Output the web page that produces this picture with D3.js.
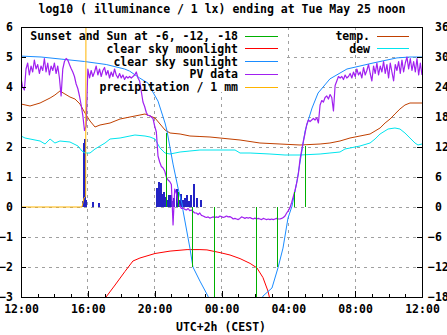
<!DOCTYPE html>
<html><head><meta charset="utf-8">
<script src="https://cdn.jsdelivr.net/npm/d3@7"></script>
<style>
html,body{margin:0;padding:0;background:#fff;}
svg text{font-family:"DejaVu Sans Mono",monospace;font-weight:bold;font-size:11.5px;fill:#000;}
</style></head><body>
<svg id="chart" width="447" height="335"></svg>
<script>
// ---- data (time = hours after Mon 12:00 local, CEST) ----
const xTickHours = [0, 4, 8, 12, 16, 20, 24];
const xTickLabels = ["12:00", "16:00", "20:00", "00:00", "04:00", "08:00", "12:00"];
const yTicks = [-3, -2, -1, 0, 1, 2, 3, 4, 5, 6];
const y2Ticks = [-18, -12, -6, 0, 6, 12, 18, 24, 30, 36];

// Sunset and Sun at -6, -12, -18 (impulses)
const sunT = [8.72, 9.40, 10.29, 11.61, 14.07, 15.38, 16.34, 17.04];
const sunV = [2.47, 0.5, -2.0, -3.5, -3.5, -2.0, 0.5, 2.03];

// clear sky moonlight
const moonT = [4.95, 5.09, 5.63, 6.22, 6.70, 7.12, 7.42, 8.02, 8.92, 9.94, 10.71, 11.13, 11.91, 12.51, 13.11, 13.71, 14.12, 14.48, 14.78, 14.95];
const moonV = [-3.2, -3.0, -2.6, -2.15, -1.8, -1.7, -1.65, -1.55, -1.47, -1.42, -1.42, -1.43, -1.52, -1.6, -1.72, -1.88, -2.03, -2.35, -2.8, -3.2];

// clear sky sunlight
const sunlightT = [0, 1.2, 2.4, 3.8, 5.1, 6.2, 6.5, 7.1, 7.6, 7.72, 8.2, 8.62, 8.74, 9.10, 9.40, 9.64, 9.70, 10.11, 10.29, 10.71, 11.19, 11.4, 14.3, 14.48, 15.02, 15.38, 15.68, 15.98, 16.22, 16.52, 16.88, 17.0, 17.18, 17.42, 17.78, 18.49, 19.51, 21.07, 22.5, 23.28, 24];
const sunlightV = [5.03, 5.0, 4.93, 4.85, 4.75, 4.6, 4.53, 4.3, 4.13, 4.0, 3.53, 2.8, 2.53, 1.43, 0.63, 0.1, -0.13, -1.37, -2.0, -2.47, -2.97, -3.3, -3.3, -2.97, -2.7, -2.03, -1.37, -0.37, 0.03, 0.87, 2.1, 2.53, 2.87, 3.3, 3.8, 4.27, 4.6, 4.8, 4.97, 5.0, 5.0];

// PV data, one reading every 6 minutes from 12:00
const pvStartHour = 0, pvStepHours = 0.1;
const pvV = [
 4.3, 4.0, 3.9, 4.6, 4.8, 4.4, 4.7, 4.5, 4.9, 4.6,
 4.75, 4.45, 4.7, 4.55, 4.95, 4.5, 4.8, 4.4, 4.7, 4.55,
 4.8, 4.45, 4.7, 4.3, 3.7, 4.6, 4.85, 4.95, 4.9, 4.75,
 4.62, 4.5, 4.35, 4.1, 3.95, 3.7, 3.4, 3.05, 2.55, 2.7,
 4.6, 4.3, 4.55, 4.35, 4.5, 4.7, 4.4, 4.6, 4.35, 4.55,
 4.65, 4.4, 4.55, 4.3, 4.5, 4.35, 4.6, 4.4, 4.3, 4.45,
 4.3, 4.4, 4.25, 4.35, 4.3, 4.35, 4.3, 4.35, 4.4, 4.5,
 4.3, 4.2, 3.85, 3.5, 3.35, 3.15, 3.05, 3.05, 3.0, 2.95,
 2.7, 2.5, 1.7, 1.5, 1.35, 1.3, 1.2, 1.0, 0.9, 0.85,
 0.75, -0.6, 0.6, 0.45, 0.15, 0.05, -0.05, -0.03, -0.08, -0.1,
 -0.05, -0.12, -0.1, -0.15, -0.2, -0.2, -0.25, -0.2, -0.28, -0.3,
 -0.33, -0.35, -0.33, -0.37, -0.35, -0.33, -0.35, -0.33, -0.35, -0.3,
 -0.32, -0.35, -0.33, -0.3, -0.33, -0.32, -0.35, -0.4, -0.38, -0.4,
 -0.42, -0.38, -0.33, -0.35, -0.38, -0.35, -0.37, -0.35, -0.38, -0.4,
 -0.37, -0.4, -0.38, -0.4, -0.42, -0.38, -0.4, -0.42, -0.4, -0.42,
 -0.4, -0.42, -0.4, -0.38, -0.4, -0.4, -0.38, -0.35, -0.3, -0.2,
 -0.12, -0.02, 0.15, 0.35, 0.55, 0.8, 1.1, 1.6, 1.9, 2.2,
 2.45, 2.75, 2.9, 2.85, 2.9, 2.95, 2.9, 2.98, 2.8, 3.4,
 3.55, 3.5, 3.65, 3.7, 3.6, 3.75, 3.65, 3.2, 4.05, 4.2,
 4.35, 4.3, 4.35, 4.25, 4.4, 4.3, 4.35, 4.45, 4.3, 4.5,
 4.35, 4.6, 4.4, 4.5, 4.3, 4.65, 4.4, 4.55, 4.75, 4.45,
 4.2, 4.7, 4.45, 4.8, 4.4, 4.7, 4.5, 4.85, 4.45, 4.75,
 4.3, 4.8, 4.5, 4.2, 4.75, 4.55, 4.85, 4.45, 4.9, 4.5,
 4.8, 5.0, 4.6, 4.95, 4.55, 4.85, 4.5, 4.95, 4.4, 4.8,
 4.4
];

// precipitation / 1 mm
const precT = [0, 3.65, 3.71, 3.77, 3.87, 3.89, 24];
const precV = [0, 0, 0.15, 0.3, 0.35, 7, 7];

// unlabelled impulses (dark blue)
const barT = [3.71, 3.77, 3.83, 3.92, 4.31, 4.67, 8.14, 8.26, 8.36, 8.44, 8.56, 8.66, 8.77, 8.86, 8.96, 9.07, 9.16, 9.34, 9.46, 9.56, 9.70, 9.82, 9.94, 10.05, 10.16, 10.35, 10.53, 10.76];
const barV = [0.2, 2.15, 2.27, 0.25, 0.17, 0.15, 0.65, 0.85, 0.8, 0.45, 0.5, 0.35, 0.25, 0.4, 0.4, 0.2, 0.3, 0.6, 0.25, 0.45, 0.25, 0.3, 0.4, 0.2, 0.4, 0.77, 0.3, 0.22];

// temperature and dew point, deg C (right axis)
const tempT = [0, 0.54, 1.14, 1.74, 2.03, 2.33, 2.63, 2.93, 3.23, 3.53, 3.83, 4.13, 4.43, 4.73, 5.33, 5.93, 6.52, 7.12, 7.42, 7.72, 8.02, 8.32, 8.62, 8.92, 9.52, 10.11, 10.71, 11.31, 11.91, 13.11, 14.30, 15.50, 16.70, 17.90, 18.49, 19.09, 19.69, 20.29, 20.89, 21.19, 21.49, 21.79, 22.09, 22.38, 22.68, 22.98, 23.28, 24];
const tempC = [20.6, 20.2, 20.8, 21.8, 22.4, 23.2, 22.6, 22.0, 21.6, 20.6, 18.8, 17.2, 16.0, 16.4, 16.8, 17.6, 18.0, 18.4, 18.6, 18.2, 17.8, 16.6, 15.4, 14.8, 14.6, 14.2, 14.1, 14.0, 13.8, 13.4, 12.8, 12.6, 12.4, 12.6, 12.8, 13.2, 13.8, 14.2, 14.6, 15.2, 15.8, 16.8, 17.6, 18.6, 19.6, 20.4, 20.8, 20.8];
const dewT = [0, 0.24, 0.54, 1.14, 1.44, 1.62, 1.74, 2.03, 2.33, 2.93, 3.41, 3.65, 3.83, 4.13, 4.43, 4.73, 5.03, 5.33, 5.93, 6.52, 6.82, 7.42, 7.72, 8.02, 8.32, 8.62, 8.92, 9.22, 9.52, 10.11, 10.71, 11.31, 11.91, 12.81, 13.11, 13.71, 14.90, 15.80, 16.70, 17.90, 18.49, 19.09, 19.39, 19.69, 20.29, 20.89, 21.19, 21.49, 21.97, 22.38, 22.68, 22.98, 23.28, 23.58, 23.76, 24];
const dewC = [14.2, 13.8, 13.6, 13.2, 12.6, 13.2, 13.6, 12.8, 13.2, 13.0, 12.2, 11.2, 10.8, 10.8, 11.6, 12.2, 12.8, 13.6, 13.8, 14.2, 14.4, 14.2, 14.0, 13.6, 11.8, 10.8, 10.6, 10.8, 11.0, 11.2, 11.4, 11.4, 11.4, 11.4, 10.8, 10.8, 10.6, 10.4, 10.4, 10.6, 10.8, 11.0, 11.6, 11.8, 12.2, 12.8, 13.6, 14.6, 15.6, 15.8, 15.6, 14.8, 13.8, 12.8, 12.4, 12.6];

// ---- drawing ----
const L = 21, R = 422, T = 27, B = 297;
const svg = d3.select("#chart");
const x = d3.scaleLinear().domain([0, 24]).range([L, R]);
const y = d3.scaleLinear().domain([-3, 6]).range([B, T]);
const y2 = d3.scaleLinear().domain([-18, 36]).range([B, T]);

svg.append("defs").append("clipPath").attr("id", "clip")
  .append("rect").attr("x", L).attr("y", T).attr("width", R - L).attr("height", B - T);

// grid
const grid = svg.append("g").attr("stroke", "#a0a0a0").attr("stroke-dasharray", "3,4").attr("shape-rendering", "crispEdges");
grid.selectAll("line.gx").data(xTickHours.slice(1, -1)).join("line")
  .attr("x1", d => x(d)).attr("x2", d => x(d)).attr("y1", T).attr("y2", B);
grid.selectAll("line.gy").data(yTicks.slice(1, -1)).join("line").attr("class", "gy")
  .attr("x1", L).attr("x2", R).attr("y1", d => y(d)).attr("y2", d => y(d));

// opaque key box (left)
svg.append("rect").attr("x", L + 1).attr("y", T + 1).attr("width", 262).attr("height", 64).attr("fill", "#fff");

const plot = svg.append("g").attr("clip-path", "url(#clip)");
const line = d3.line().x(d => x(d[0])).y(d => d[1]);

function path(ts, vs, scale, color, w) {
  plot.append("path").datum(ts.map((t, i) => [t, scale(vs[i])]))
    .attr("d", line).attr("fill", "none").attr("stroke", color).attr("stroke-width", w || 1)
    .attr("stroke-linejoin", "round");
}

// dark blue impulses
plot.selectAll("line.bar").data(barT).join("line").attr("class", "bar")
  .attr("x1", d => x(d)).attr("x2", d => x(d)).attr("y1", y(0)).attr("y2", (d, i) => y(barV[i]))
  .attr("stroke", "#2323c4").attr("stroke-width", 2).attr("shape-rendering", "crispEdges");

path(tempT, tempC, y2, "#c04000");
path(dewT, dewC, y2, "#00e5ee");
path(moonT, moonV, y, "#ff0000");
path(sunlightT, sunlightV, y, "#1a8cff");
path(pvV.map((v, i) => pvStartHour + i * pvStepHours), pvV, y, "#a020f0", 1.2);
path(precT, precV, y, "#ffb400");

// sun impulses
plot.selectAll("line.sun").data(sunT).join("line").attr("class", "sun")
  .attr("x1", d => x(d)).attr("x2", d => x(d)).attr("y1", y(0)).attr("y2", (d, i) => y(sunV[i]))
  .attr("stroke", "#00b000").attr("stroke-width", 1).attr("shape-rendering", "crispEdges");

// frame
svg.append("rect").attr("x", L).attr("y", T).attr("width", R - L).attr("height", B - T)
  .attr("fill", "none").attr("stroke", "#000").attr("shape-rendering", "crispEdges");

// axes
const axL = svg.append("g").attr("transform", `translate(${L},0)`)
  .call(d3.axisLeft(y).tickValues(yTicks).tickFormat(d3.format("d")).tickSize(-5).tickPadding(8));
const axR = svg.append("g").attr("transform", `translate(${R},0)`)
  .call(d3.axisRight(y2).tickValues(y2Ticks).tickFormat(d3.format("d")).tickSize(-5).tickPadding(6));
// gnuplot keeps a column for the sign of right-axis labels
axR.selectAll(".tick text").attr("x", d => d < 0 ? 6 : 13);
const axB = svg.append("g").attr("transform", `translate(0,${B})`)
  .call(d3.axisBottom(x).tickValues(xTickHours).tickFormat((d, i) => xTickLabels[i]).tickSize(-6).tickPadding(8));
const axBm = svg.append("g").attr("transform", `translate(0,${B})`)
  .call(d3.axisBottom(x).tickValues(d3.range(1, 24)).tickFormat("").tickSize(-3));
[axL, axR, axB, axBm].forEach(g => {
  g.select(".domain").remove();
  g.attr("font-family", null).attr("font-size", null);
  g.selectAll(".tick line").attr("stroke", "#000").attr("shape-rendering", "crispEdges");
  g.selectAll("text").attr("fill", "#000");
});

// title & axis label
svg.append("text").attr("x", 222).attr("y", 13).attr("text-anchor", "middle")
  .text("log10 ( illuminance / 1 lx) ending at Tue May 25 noon");
svg.append("text").attr("x", 221).attr("y", 331).attr("text-anchor", "middle").text("UTC+2h (CEST)");

// legends
const keyL = [
  ["Sunset and Sun at -6, -12, -18", "#00b000"],
  ["clear sky moonlight", "#ff0000"],
  ["clear sky sunlight", "#1a8cff"],
  ["PV data", "#a020f0"],
  ["precipitation / 1 mm", "#ffb400"]
];
const keyR = [["temp.", "#c04000"], ["dew", "#00e5ee"]];
function key(items, textX, lx1, lx2) {
  items.forEach((d, i) => {
    const yy = 36 + i * 12.75;
    svg.append("text").attr("x", textX).attr("y", yy + 4).attr("text-anchor", "end").text(d[0]);
    svg.append("line").attr("x1", lx1).attr("x2", lx2).attr("y1", yy).attr("y2", yy)
      .attr("stroke", d[1]).attr("shape-rendering", "crispEdges");
  });
}
key(keyL, 238, 245, 278);
key(keyR, 370, 377, 409);
</script>
</body></html>
